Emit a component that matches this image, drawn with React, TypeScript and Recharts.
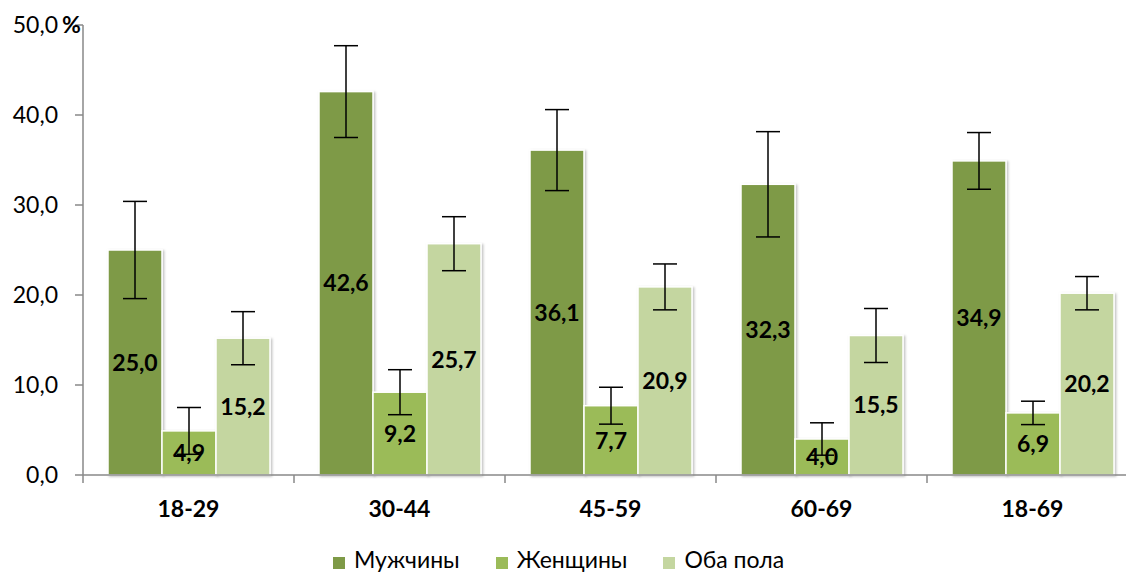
import React from 'react';
import {
  BarChart,
  Bar,
  XAxis,
  YAxis,
  ErrorBar,
  LabelList,
} from 'recharts';

const categories = ['18-29', '30-44', '45-59', '60-69', '18-69'];
const men = [25.0, 42.6, 36.1, 32.3, 34.9];
const women = [4.9, 9.2, 7.7, 4.0, 6.9];
const both = [15.2, 25.7, 20.9, 15.5, 20.2];
const menErr = [5.4, 5.1, 4.5, 5.85, 3.15];
const womenErr = [2.6, 2.5, 2.05, 1.8, 1.3];
const bothErr = [2.95, 3.0, 2.55, 3.0, 1.85];
const yTicks = [0, 10, 20, 30, 40, 50];

const seriesNames = ['Мужчины', 'Женщины', 'Оба пола'];
const colors = ['#7E9A47', '#9BBB59', '#C4D6A0'];

const data = categories.map((c, i) => ({
  category: c,
  men: men[i],
  women: women[i],
  both: both[i],
  menErr: menErr[i],
  womenErr: womenErr[i],
  bothErr: bothErr[i],
}));

const FONT = "Lato, 'Open Sans', 'DejaVu Sans', sans-serif";
const AXIS = '#888888';
const BAND = 211;

const fmt = (v: number) => v.toFixed(1).replace('.', ',');

const YTick = ({ x, y, payload }: any) => (
  <g>
    <text x={x} y={y} dy={8} textAnchor="end" fontSize={23} fill="#000" fontFamily={FONT}>
      {fmt(payload.value)}
    </text>
    {payload.value === 50 && (
      <text x={x + 4} y={y} dy={8} textAnchor="start" fontSize={23} fontWeight="bold" fill="#000" fontFamily={FONT}>
        %
      </text>
    )}
  </g>
);

const XTick = ({ x, y, payload }: any) => (
  <g>
    <line x1={x - BAND / 2} x2={x - BAND / 2} y1={y} y2={y + 8} stroke={AXIS} strokeWidth={1.5} />
    <text x={x} y={y + 42} textAnchor="middle" fontSize={23} fontWeight="bold" fill="#000" fontFamily={FONT}>
      {payload.value}
    </text>
  </g>
);

const ShadowBar = (props: any) => {
  const { x, y, width, height, fill } = props;
  if (!height) return null;
  return (
    <rect
      x={x}
      y={y}
      width={width}
      height={height}
      fill={fill}
      stroke="#fff"
      strokeWidth={1.5}
      filter="url(#barShadow)"
    />
  );
};

const labelProps = {
  position: 'center' as const,
  formatter: (v: any) => fmt(Number(v)),
  fill: '#000',
  fontSize: 23,
  fontWeight: 'bold',
  fontFamily: FONT,
};

export default function App() {
  return (
    <div style={{ width: 1126, height: 575, overflow: 'hidden', position: 'relative', background: '#fff' }}>
      <style>{'body{margin:0;overflow:hidden;}'}</style>
      <BarChart
        width={1140}
        height={600}
        data={data}
        margin={{ top: 25, right: 2, left: 0, bottom: 65 }}
        barCategoryGap={25}
        barGap={0}
      >
        <defs>
          <filter id="barShadow" x="-10%" y="-10%" width="130%" height="130%">
            <feDropShadow dx="1.5" dy="1" stdDeviation="1" floodColor="#000" floodOpacity="0.25" />
          </filter>
        </defs>
        <XAxis
          dataKey="category"
          axisLine={{ stroke: AXIS, strokeWidth: 1.5 }}
          tickLine={false}
          tickSize={0}
          tickMargin={0}
          height={60}
          tick={<XTick />}
          interval={0}
        />
        <YAxis
          domain={[0, 50]}
          ticks={yTicks}
          width={83}
          axisLine={{ stroke: AXIS, strokeWidth: 1.5 }}
          tickLine={{ stroke: AXIS, strokeWidth: 1.5 }}
          tickSize={8}
          tickMargin={17}
          tick={<YTick />}
        />
        <Bar dataKey="men" name={seriesNames[0]} fill={colors[0]} shape={<ShadowBar />} isAnimationActive={false}>
          <ErrorBar dataKey="menErr" width={12} stroke="#000" strokeWidth={1.5} direction="y" isAnimationActive={false} />
          <LabelList dataKey="men" {...labelProps} />
        </Bar>
        <Bar dataKey="women" name={seriesNames[1]} fill={colors[1]} shape={<ShadowBar />} isAnimationActive={false}>
          <ErrorBar dataKey="womenErr" width={12} stroke="#000" strokeWidth={1.5} direction="y" isAnimationActive={false} />
          <LabelList dataKey="women" {...labelProps} />
        </Bar>
        <Bar dataKey="both" name={seriesNames[2]} fill={colors[2]} shape={<ShadowBar />} isAnimationActive={false}>
          <ErrorBar dataKey="bothErr" width={12} stroke="#000" strokeWidth={1.5} direction="y" isAnimationActive={false} />
          <LabelList dataKey="both" {...labelProps} />
        </Bar>
      </BarChart>
      <div
        style={{
          position: 'absolute',
          left: 333,
          top: 548,
          display: 'flex',
          alignItems: 'center',
          fontFamily: FONT,
          fontSize: 23,
          lineHeight: '23px',
        }}
      >
        {seriesNames.map((name, i) => (
          <div key={name} style={{ display: 'flex', alignItems: 'center', marginRight: 36 }}>
            <span
              style={{
                display: 'inline-block',
                width: 12,
                height: 12,
                background: colors[i],
                marginRight: 9,
                position: 'relative',
                top: 3,
              }}
            />
            <span style={{ color: '#000' }}>{name}</span>
          </div>
        ))}
      </div>
    </div>
  );
}
